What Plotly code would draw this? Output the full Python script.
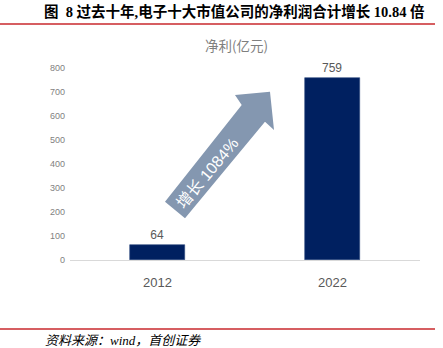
import plotly.graph_objects as go

# Data
years = ["2012", "2022"]
net_profit = [64, 759]          # 亿元
y_ticks = [0, 100, 200, 300, 400, 500, 600, 700, 800]

W, H = 443, 348
L, R, T, B = 70, 23, 68, 88     # plot area margins (px)
PW, PH = W - L - R, H - T - B


def px(x):
    """pixel x -> paper x"""
    return (x - L) / PW


def py(y):
    """pixel y (from top) -> paper y"""
    return (H - B - y) / PH


fig = go.Figure()
fig.add_trace(go.Bar(
    x=years, y=net_profit, width=0.314,
    marker=dict(color="#002060", line=dict(color="#2E4A80", width=0.6)),
    text=[str(v) for v in net_profit], textposition="outside",
    textfont=dict(family="Liberation Sans, Noto Sans", size=12, color="#595959"),
    cliponaxis=False,
))

# growth arrow (pixel outline converted to paper units)
arrow_px = [(165, 201.7), (241.7, 105), (235, 95), (270, 91.7),
            (274, 130), (265, 121.7), (185, 218.3)]
path = "M " + " L ".join(f"{px(x):.4f},{py(y):.4f}" for x, y in arrow_px) + " Z"

shapes = [
    dict(type="path", xref="paper", yref="paper", path=path,
         fillcolor="#8497B0", line=dict(width=0), layer="above"),
    dict(type="line", xref="paper", yref="paper",
         x0=px(0), x1=px(435), y0=py(24), y1=py(24),
         line=dict(color="#C8282D", width=1.6)),
    dict(type="line", xref="paper", yref="paper",
         x0=px(0), x1=px(435), y0=py(329), y1=py(329),
         line=dict(color="#C8282D", width=1.6)),
]

annotations = [
    dict(text="<b>图  8 过去十年,电子十大市值公司的净利润合计增长 10.84 倍</b>",
         xref="paper", yref="paper", x=px(42), y=py(12), xanchor="left", yanchor="middle",
         showarrow=False, font=dict(family="Liberation Serif, Noto Sans CJK SC", size=14.5, color="#000000")),
    dict(text="净利(亿元)", xref="paper", yref="paper", x=px(236), y=py(45),
         xanchor="center", yanchor="middle", showarrow=False,
         font=dict(family="Noto Sans CJK SC", size=13.5, color="#7F7F7F")),
    dict(text="增长 1084%", xref="paper", yref="paper", x=px(207), y=py(173),
         xanchor="center", yanchor="middle", showarrow=False, textangle=-50,
         font=dict(family="Liberation Sans, Noto Sans CJK SC", size=16, color="#FFFFFF")),
    dict(text="<i>资料来源：wind，首创证券</i>", xref="paper", yref="paper",
         x=px(43), y=py(340), xanchor="left", yanchor="middle", showarrow=False,
         font=dict(family="Liberation Serif, Noto Sans CJK SC", size=13, color="#000000")),
]

fig.update_layout(
    width=W, height=H, margin=dict(l=L, r=R, t=T, b=B),
    paper_bgcolor="#FFFFFF", plot_bgcolor="#FFFFFF",
    showlegend=False, bargap=0,
    shapes=shapes, annotations=annotations,
    xaxis=dict(showgrid=False, showline=True, linecolor="#D9D9D9", linewidth=1.2,
               ticks="", ticklabelstandoff=10,
               tickfont=dict(family="Liberation Sans, Noto Sans", size=13, color="#595959")),
    yaxis=dict(range=[0, 800], tickvals=y_ticks, showgrid=False, showline=False,
               zeroline=False, ticks="", ticklabelstandoff=4,
               tickfont=dict(family="Liberation Sans, Noto Sans", size=9, color="#7F7F7F")),
)

fig.write_html("out.html")
